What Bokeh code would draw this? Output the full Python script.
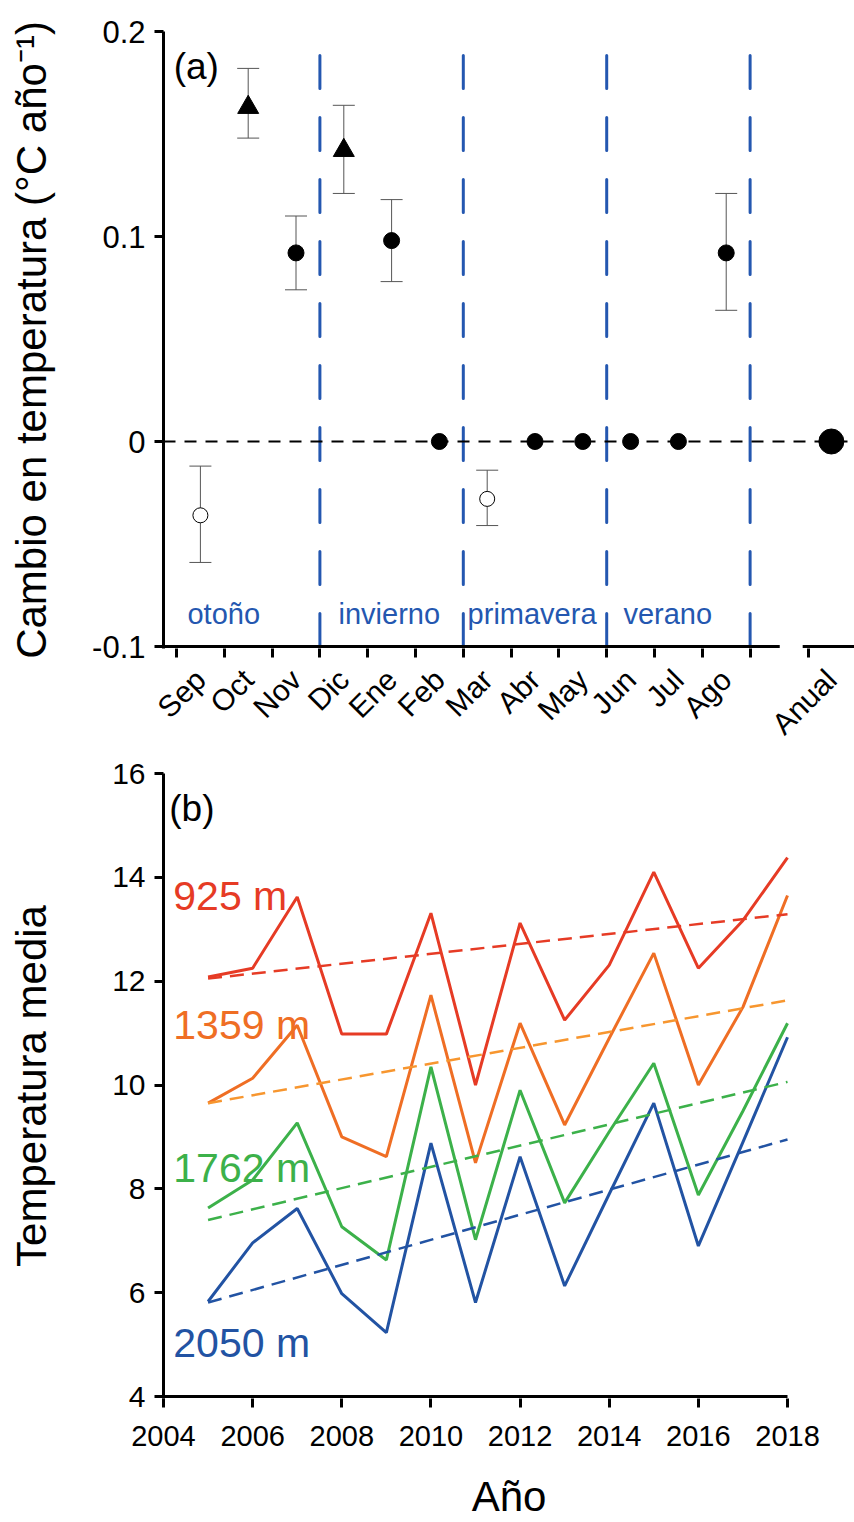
import math
from bokeh.plotting import figure
from bokeh.models import (FixedTicker, CustomJSTickFormatter, Span, Whisker,
                          TeeHead, ColumnDataSource, Range1d)
from bokeh.layouts import column
from bokeh.embed import file_html
from bokeh.resources import INLINE
from bokeh.core.properties import value

FONT = "Liberation Sans"

# ---------------- Panel (a) data ----------------
months = ["Sep", "Oct", "Nov", "Dic", "Ene", "Feb", "Mar", "Abr", "May",
          "Jun", "Jul", "Ago", "Anual"]
trend = [-0.036, 0.163, 0.092, 0.142, 0.098, 0.0, -0.028, 0.0, 0.0, 0.0,
         0.0, 0.092, 0.0]
err_hi = [-0.012, 0.182, 0.110, 0.164, 0.118, None, -0.014, None, None,
          None, None, 0.121, None]
err_lo = [-0.059, 0.148, 0.074, 0.121, 0.078, None, -0.041, None, None,
          None, None, 0.064, None]
kind = ["open", "tri", "dot", "tri", "dot", "dot", "open", "dot", "dot",
        "dot", "dot", "dot", "big"]
seasons = ["otoño", "invierno", "primavera", "verano"]
a_yticks = [-0.1, 0.0, 0.1, 0.2]
a_ylabels = ["-0.1", "0", "0.1", "0.2"]

# axis layout of panel (a): month i centred at i+0.5, boundaries at integers
month_pos = [i + 0.5 for i in range(12)] + [13.7]
boundaries = list(range(13)) + [13.22]
season_bounds = [3, 6, 9, 12]
season_x = [0.23, 3.39, 6.09, 9.35]

# ---------------- Panel (b) data ----------------
years = list(range(2005, 2019))
t925 = [12.08, 12.25, 13.62, 10.98, 10.98, 13.31, 10.0, 13.12, 11.25, 12.31,
        14.1, 12.25, 13.17, 14.38]
t1359 = [9.65, 10.13, 11.15, 9.0, 8.62, 11.73, 8.5, 11.19, 9.23, 10.9,
         12.54, 10.0, 11.5, 13.65]
t1762 = [7.63, 8.17, 9.27, 7.27, 6.63, 10.35, 7.02, 9.9, 7.73, 9.1, 10.42,
         7.88, 9.5, 11.19]
t2050 = [5.83, 6.96, 7.62, 5.98, 5.23, 8.88, 5.81, 8.62, 6.13, 7.9, 9.65,
         6.9, 8.9, 10.92]
trend_start = [12.05, 9.65, 7.4, 5.81]
trend_end = [13.29, 11.63, 10.06, 8.95]
altitudes = ["925 m", "1359 m", "1762 m", "2050 m"]
series = [t925, t1359, t1762, t2050]
line_colors = ["#E63B25", "#EF6E24", "#3CB14A", "#2253A3"]
dash_colors = ["#E63B25", "#F7962F", "#3CB14A", "#2253A3"]
alt_label_y = [13.65, 11.15, 8.40, 5.04]
b_xticks = list(range(2004, 2019, 2))
b_yticks = list(range(4, 17, 2))

BLUE = "#2457B0"

# ---------------- Figure (a) ----------------
p1 = figure(width=854, height=755, x_range=Range1d(-0.272, 14.184),
            y_range=Range1d(-0.100974, 0.2), output_backend="svg",
            toolbar_location=None, min_border_left=163, min_border_right=0,
            min_border_top=31, min_border_bottom=106)
p1.outline_line_color = None
p1.grid.visible = False

p1.add_layout(Span(location=0, dimension="width", line_color="black",
                   line_width=2, line_dash="12 9"))

p1.segment(x0=season_bounds, y0=[-0.1] * 4, x1=season_bounds, y1=[0.2] * 4,
           line_color=BLUE, line_width=3, line_dash="33 29",
           line_cap="round")

# manual x-axis line with a gap before "Anual"
p1.segment(x0=[-0.272, 13.1], y0=[-0.1, -0.1], x1=[12.62, 14.3],
           y1=[-0.1, -0.1], line_color="black", line_width=3)

# error bars
ex = [month_pos[i] for i in range(13) if err_hi[i] is not None]
eh = [err_hi[i] for i in range(13) if err_hi[i] is not None]
el = [err_lo[i] for i in range(13) if err_hi[i] is not None]
esrc = ColumnDataSource(dict(x=ex, hi=eh, lo=el))
p1.add_layout(Whisker(base="x", upper="hi", lower="lo", source=esrc,
                      line_color="#555555", line_width=1,
                      upper_head=TeeHead(size=22, line_color="#555555",
                                         line_width=1),
                      lower_head=TeeHead(size=22, line_color="#555555",
                                         line_width=1)))

def pick(k):
    xs = [month_pos[i] for i in range(13) if kind[i] == k]
    ys = [trend[i] for i in range(13) if kind[i] == k]
    return xs, ys

xs, ys = pick("dot")
p1.scatter(xs, ys, marker="circle", size=16, fill_color="black",
           line_color="black")
xs, ys = pick("big")
p1.scatter(xs, ys, marker="circle", size=25, fill_color="black",
           line_color="black")
xs, ys = pick("open")
p1.scatter(xs, ys, marker="circle", size=15, fill_color="white",
           line_color="black", line_width=1)
xs, ys = pick("tri")
p1.scatter(xs, ys, marker="triangle", size=21, fill_color="black",
           line_color="black")

p1.text(x=season_x, y=[-0.0843] * 4, text=seasons, text_color=BLUE,
        text_font=value(FONT), text_font_size="29px",
        text_baseline="alphabetic", text_align="left")
p1.text(x=[-0.06], y=[0.1827], text=["(a)"], text_color="black",
        text_font=value(FONT), text_font_size="37px",
        text_baseline="alphabetic", text_align="left")

LOOKUP = """
for (let i = 0; i < pos.length; i++) {
  if (Math.abs(tick - pos[i]) < 1e-6) { return lab[i]; }
}
return "";
"""

xa = p1.xaxis[0]
xa.ticker = FixedTicker(ticks=month_pos, minor_ticks=boundaries)
xa.formatter = CustomJSTickFormatter(args=dict(pos=month_pos, lab=months),
                                     code=LOOKUP)
xa.axis_line_color = None
xa.major_tick_line_color = None
xa.minor_tick_line_color = "black"
xa.minor_tick_line_width = 3
xa.minor_tick_out = 9
xa.minor_tick_in = 0
xa.major_label_orientation = math.pi / 4
xa.major_label_standoff = 17
xa.major_label_text_font = FONT
xa.major_label_text_font_size = "30px"
xa.major_label_text_color = "black"

ya = p1.yaxis[0]
ya.ticker = FixedTicker(ticks=a_yticks, minor_ticks=[])
ya.formatter = CustomJSTickFormatter(args=dict(pos=a_yticks, lab=a_ylabels),
                                     code=LOOKUP)
ya.axis_line_width = 3
ya.axis_line_color = "black"
ya.major_tick_line_width = 3
ya.major_tick_line_color = "black"
ya.major_tick_out = 9
ya.major_tick_in = 0
ya.minor_tick_line_color = None
ya.major_label_standoff = 9
ya.major_label_text_font = FONT
ya.major_label_text_font_size = "31px"
ya.major_label_text_color = "black"
ya.axis_label = "Cambio en temperatura (°C año⁻¹)"
ya.axis_label_text_font = FONT
ya.axis_label_text_font_size = "42px"
ya.axis_label_text_font_style = "normal"
ya.axis_label_text_color = "black"
ya.axis_label_standoff = 34

# ---------------- Figure (b) ----------------
p2 = figure(width=854, height=767, x_range=Range1d(2004, 2019.503),
            y_range=Range1d(3.9615, 16), output_backend="svg",
            toolbar_location=None, min_border_left=163, min_border_right=0,
            min_border_top=18, min_border_bottom=123)
p2.outline_line_color = None
p2.grid.visible = False

# manual x-axis line ending at 2018
p2.segment(x0=[2004], y0=[4], x1=[2018], y1=[4], line_color="black",
           line_width=3)

for vals, c in zip(series, line_colors):
    p2.line(years, vals, line_color=c, line_width=3)
for s, e, c in zip(trend_start, trend_end, dash_colors):
    p2.line([years[0], years[-1]], [s, e], line_color=c, line_width=2.5,
            line_dash="14 8")

p2.text(x=[2004.22] * 4, y=alt_label_y, text=altitudes,
        text_color=line_colors, text_font=value(FONT),
        text_font_size="41px", text_baseline="alphabetic",
        text_align="left")
p2.text(x=[2004.13], y=[15.33], text=["(b)"], text_color="black",
        text_font=value(FONT), text_font_size="37px",
        text_baseline="alphabetic", text_align="left")

for ax in (p2.xaxis[0], p2.yaxis[0]):
    ax.axis_line_width = 3
    ax.axis_line_color = "black"
    ax.major_tick_line_width = 3
    ax.major_tick_line_color = "black"
    ax.major_tick_out = 9
    ax.major_tick_in = 0
    ax.minor_tick_line_color = None
    ax.major_label_text_font = FONT
    ax.major_label_text_color = "black"
    ax.axis_label_text_font = FONT
    ax.axis_label_text_font_size = "42px"
    ax.axis_label_text_font_style = "normal"
    ax.axis_label_text_color = "black"

p2.xaxis[0].major_label_text_font_size = "29px"
p2.yaxis[0].major_label_text_font_size = "30px"
p2.xaxis[0].axis_line_color = None
p2.xaxis[0].ticker = FixedTicker(ticks=b_xticks, minor_ticks=[])
p2.yaxis[0].ticker = FixedTicker(ticks=b_yticks, minor_ticks=[])
p2.xaxis[0].major_label_standoff = 18
p2.yaxis[0].major_label_standoff = 9
p2.xaxis[0].axis_label = "Año"
p2.xaxis[0].axis_label_standoff = 24
p2.yaxis[0].axis_label = "Temperatura media"
p2.yaxis[0].axis_label_standoff = 54

layout = column(p1, p2)
open("out.html", "w").write(file_html(layout, INLINE))
